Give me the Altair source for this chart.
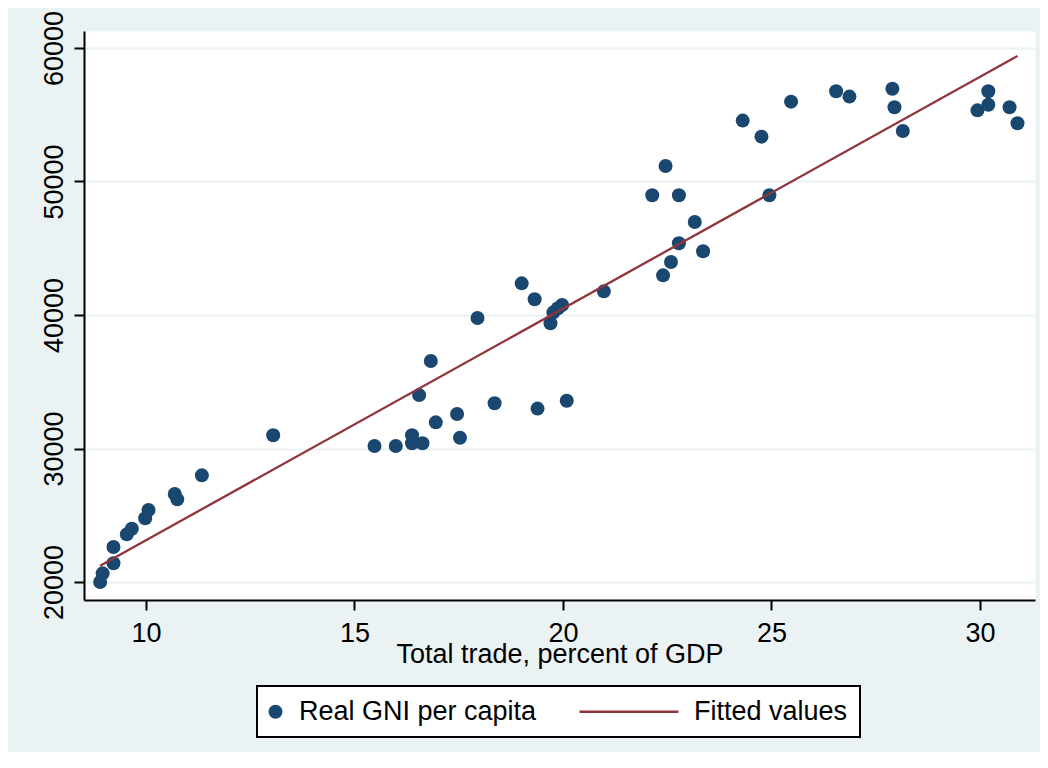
import altair as alt
import pandas as pd

# Scatter: total trade (% of GDP) vs real GNI per capita
trade = [8.90, 8.96, 9.22, 9.22, 9.54, 9.66, 9.98, 10.06, 10.69, 10.75,
         11.34, 13.05, 15.48, 15.99, 16.38, 16.38, 16.55, 16.63, 16.83, 16.95,
         17.46, 17.53, 17.95, 18.36, 19.01, 19.32, 19.39, 19.70, 19.77, 19.88,
         19.98, 20.09, 20.98, 22.14, 22.40, 22.46, 22.59, 22.78, 22.78, 23.16,
         23.36, 24.31, 24.76, 24.95, 25.47, 26.55, 26.87, 27.90, 27.95, 28.15,
         29.94, 30.20, 30.20, 30.71, 30.90]
gni = [20000, 20650, 21400, 22620, 23570, 23990, 24770, 25390, 26590, 26190,
       27990, 30990, 30190, 30190, 30990, 30390, 34000, 30390, 36550, 31960,
       32580, 30810, 39770, 33390, 42370, 41180, 32990, 39380, 40200, 40500,
       40750, 33580, 41770, 48970, 42970, 51160, 43970, 45370, 48970, 46970,
       44770, 54560, 53360, 48970, 55980, 56760, 56360, 56950, 55560, 53780,
       55330, 56760, 55750, 55560, 54360]

# Fitted values line (read endpoints)
fit_x = [8.90, 30.90]
fit_y = [21220, 59400]

series = ["Real GNI per capita", "Fitted values"]
x_ticks = [10, 15, 20, 25, 30]
y_ticks = [20000, 30000, 40000, 50000, 60000]

NAVY = "#1A476F"
MAROON = "#90353B"
BG = "#EAF2F3"
FONT = "Liberation Sans"

# legend key shapes: filled circle, and a thin bar drawn to the left of the symbol slot
LINE_KEY = "M-13,-0.164H1.143V0.164H-13Z"

pts = pd.DataFrame({"trade": trade, "gni": gni, "series": series[0]})
fit = pd.DataFrame({"trade": fit_x, "gni": fit_y})

legend = alt.Legend(
    orient="none", legendX=173, legendY=655, direction="horizontal",
    title=None, padding=12, columnPadding=42, labelOffset=10, symbolOffset=-7,
    strokeColor="black", fillColor="white", cornerRadius=0,
    labelFont=FONT, labelFontSize=27, labelColor="black", labelLimit=400,
    symbolSize=196, symbolStrokeWidth=0, symbolOpacity=1,
)

xenc = alt.X(
    "trade:Q",
    scale=alt.Scale(domain=[8.513, 31.32], nice=False, zero=False),
    axis=alt.Axis(
        values=x_ticks, title="Total trade, percent of GDP", grid=False,
        titleFont=FONT, titleFontSize=27, titleFontWeight="normal", titleColor="black",
        titleBaseline="alphabetic", titleY=62,
        labelFont=FONT, labelFontSize=27, labelColor="black", labelPadding=10,
        tickSize=10, tickWidth=2, tickColor="black",
        domainColor="black", domainWidth=2,
    ),
)
yenc = alt.Y(
    "gni:Q",
    scale=alt.Scale(domain=[18652, 61273], nice=False, zero=False),
    axis=alt.Axis(
        values=y_ticks, title=None, format="d",
        grid=True, gridColor=BG, gridWidth=2,
        labelFont=FONT, labelFontSize=27, labelColor="black",
        labelAngle=270, labelAlign="center", labelBaseline="alphabetic",
        labelPadding=12,
        tickSize=10, tickWidth=2, tickColor="black",
        domainColor="black", domainWidth=2,
    ),
)

points = alt.Chart(pts).mark_point(filled=True, size=196, opacity=1, strokeWidth=0).encode(
    x=xenc,
    y=yenc,
    color=alt.Color("series:N", scale=alt.Scale(domain=series, range=[NAVY, MAROON]), legend=legend),
    shape=alt.Shape("series:N", scale=alt.Scale(domain=series, range=["circle", LINE_KEY]), legend=legend),
)
line = alt.Chart(fit).mark_line(strokeWidth=2.3, color=MAROON).encode(x="trade:Q", y="gni:Q")

chart = (
    alt.layer(points, line)
    .properties(
        width=951, height=569,
        autosize=alt.AutoSizeParams(type="none"),
        padding={"left": 76, "top": 23, "right": 5, "bottom": 152},
        background=BG,
    )
    .configure_view(fill="white", stroke="transparent")
    .configure_legend(strokeWidth=2)
)

chart.save("out.html", embed_options={"renderer": "svg", "actions": False})
